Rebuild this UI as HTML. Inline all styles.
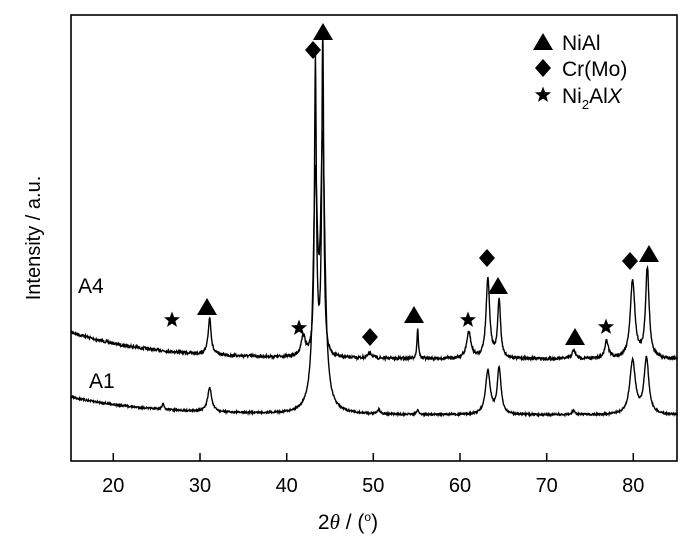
<!DOCTYPE html>
<html><head><meta charset="utf-8"><style>
html,body{margin:0;padding:0;background:#fff;}
svg{display:block;font-family:"Liberation Sans",Arial,sans-serif;}
</style></head><body>
<svg id="s" width="700" height="547" viewBox="0 0 700 547" xmlns="http://www.w3.org/2000/svg">
<rect x="0" y="0" width="700" height="547" fill="#fff"/>
<path id="a1" d="" fill="none" stroke="#000" stroke-width="1.4"/>
<path id="a4" d="" fill="none" stroke="#000" stroke-width="1.4"/>
<rect x="71" y="15" width="606" height="446" fill="none" stroke="#000" stroke-width="1.6"/>
<g stroke="#000" stroke-width="1.5">
<line x1="113.3" y1="461" x2="113.3" y2="453"/><line x1="200" y1="461" x2="200" y2="453"/>
<line x1="286.7" y1="461" x2="286.7" y2="453"/><line x1="373.3" y1="461" x2="373.3" y2="453"/>
<line x1="460" y1="461" x2="460" y2="453"/><line x1="546.7" y1="461" x2="546.7" y2="453"/>
<line x1="633.3" y1="461" x2="633.3" y2="453"/>
</g>
<g font-size="20" text-anchor="middle" fill="#000">
<text x="113.3" y="492">20</text><text x="200" y="492">30</text><text x="286.7" y="492">40</text>
<text x="373.3" y="492">50</text><text x="460" y="492">60</text><text x="546.7" y="492">70</text>
<text x="633.3" y="492">80</text>
</g>
<text x="348" y="529" font-size="21" text-anchor="middle">2<tspan font-family="Liberation Serif" font-style="italic">θ</tspan> / (<tspan font-size="12" dy="-8">o</tspan><tspan dy="8">)</tspan></text>
<text transform="translate(40,238) rotate(-90)" font-size="20" text-anchor="middle">Intensity / a.u.</text>
<text x="78" y="293" font-size="21">A4</text>
<text x="89" y="388" font-size="21">A1</text>
<g id="mk" fill="#000"></g>
<g font-size="21">
<text x="562" y="50">NiAl</text>
<text x="562" y="76">Cr(Mo)</text>
<text x="562" y="103">Ni<tspan font-size="13" dy="6">2</tspan><tspan dy="-6">Al</tspan><tspan font-style="italic">X</tspan></text>
</g>
</svg>
<script>
function X(t){return 71+(t-15)*8.6667;}
var seed=7;function rnd(){seed=(seed*16807)%2147483647;return seed/2147483647-0.5;}
function build(base,peaks,noise){var d="";for(var t=15;t<=85.001;t+=0.04){var y=base(t);for(var i=0;i<peaks.length;i++){var p=peaks[i];var u=(t-p[0])/p[2];y-=p[1]/(1+u*u);}y+=rnd()*noise;if(y<16)y=16;d+=(d?"L":"M")+X(t).toFixed(1)+" "+y.toFixed(1);}return d;}
var b4=function(t){return 359-27*Math.exp(-(t-15)/9);};
var b1=function(t){return 415-18*Math.exp(-(t-15)/9);};
var p4=[[31,37,0.2],[41.8,20,0.3],[43.2,295,0.13],[44.05,323,0.13],[49.5,5,0.3],[55,30,0.1],[60.9,26,0.3],[63.1,80,0.25],[64.4,58,0.2],[73,8,0.25],[76.8,18,0.25],[79.8,78,0.32],[81.5,90,0.25]];
var p1=[[25.6,6,0.12],[31,24,0.28],[43.2,220,0.3],[44.05,260,0.3],[50.5,4,0.2],[55,5,0.12],[63.1,43,0.32],[64.4,46,0.26],[73,4,0.2],[79.8,54,0.38],[81.4,56,0.32]];
document.getElementById("a4").setAttribute("d",build(b4,p4,3));
document.getElementById("a1").setAttribute("d",build(b1,p1,1.8));
function tri(x,y){return '<polygon points="'+(x-10)+','+(y+8)+' '+(x+10)+','+(y+8)+' '+x+','+(y-9)+'"/>';}
function dia(x,y){return '<polygon points="'+x+','+(y-9)+' '+(x+8)+','+y+' '+x+','+(y+9)+' '+(x-8)+','+y+'"/>';}
function star(x,y){var s="";for(var i=0;i<10;i++){var r=i%2?3.6:8.5;var a=-Math.PI/2+i*Math.PI/5;s+=(x+r*Math.cos(a)).toFixed(1)+","+(y+r*Math.sin(a)).toFixed(1)+" ";}return '<polygon points="'+s+'"/>';}
var m="";
m+=star(172,320)+tri(207,307)+star(299,328)+dia(313,50)+tri(323,32)+dia(370,337)+tri(414,315)+star(468,320)+dia(487,258)+tri(498,286)+tri(575,337)+star(606,327)+dia(630,261)+tri(649,254);
m+=tri(543,42)+dia(543,68)+star(543,95);
document.getElementById("mk").innerHTML=m;
</script>
</body></html>
